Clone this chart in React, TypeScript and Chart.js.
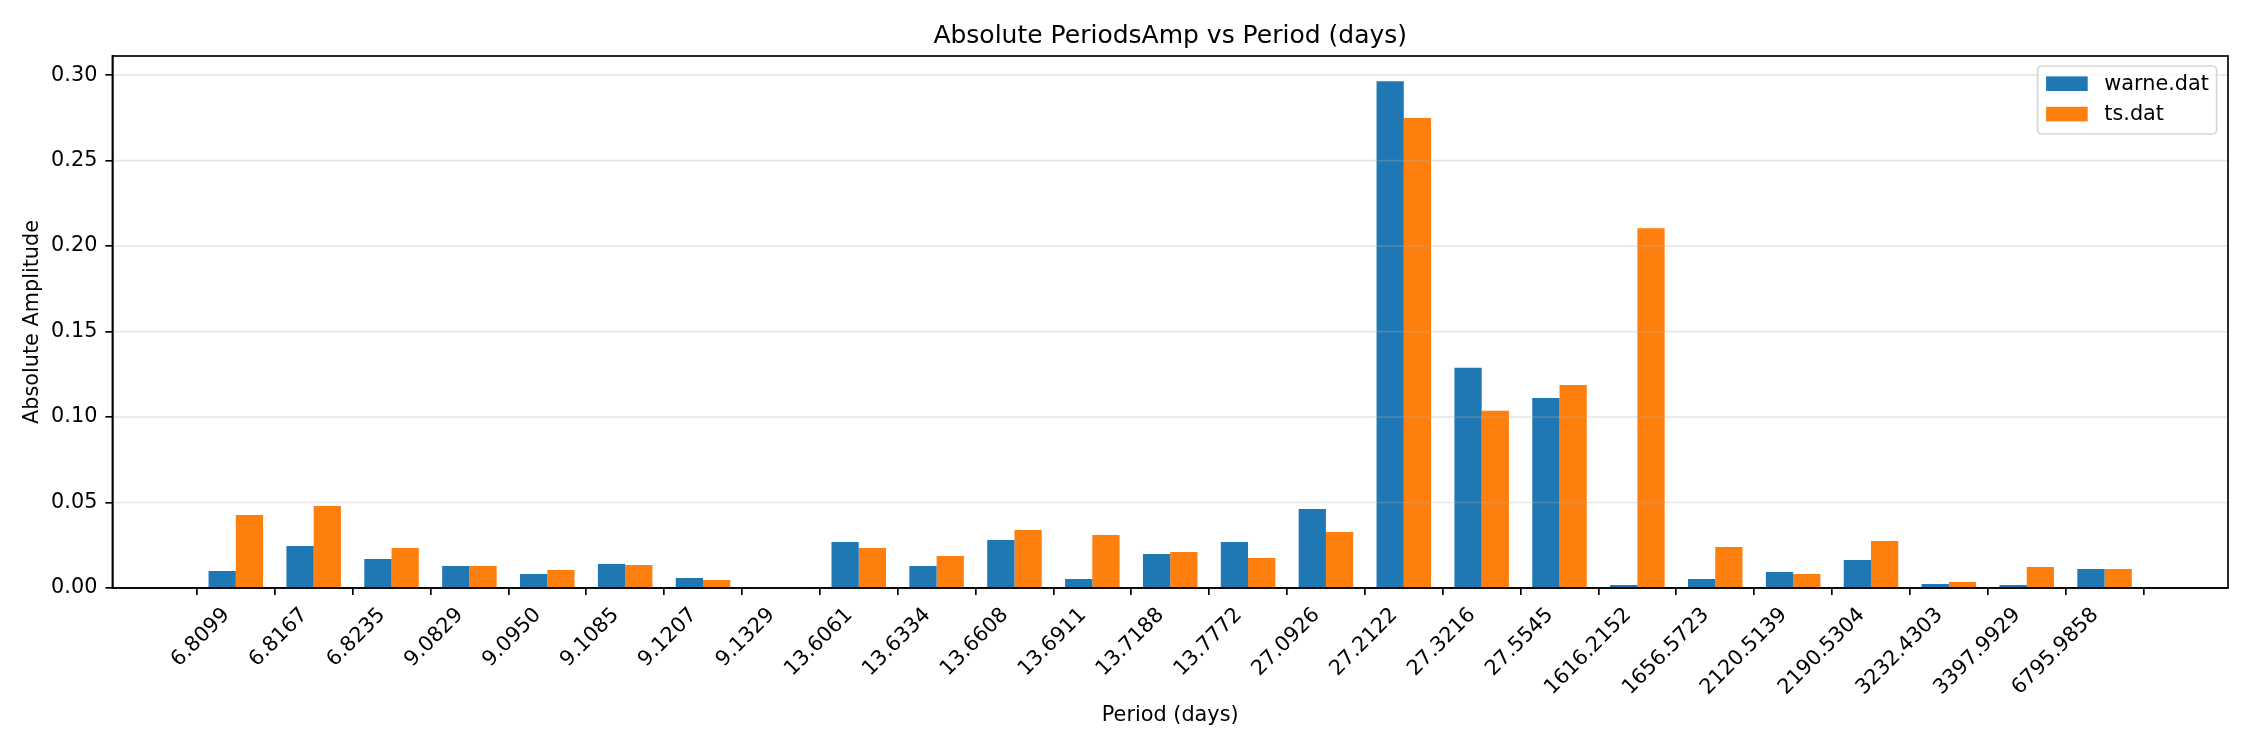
import React, { useEffect, useRef } from "react";
import { Chart, registerables } from "chart.js";

Chart.register(...registerables);

const periods = [
  "6.8099", "6.8167", "6.8235", "9.0829", "9.0950", "9.1085", "9.1207", "9.1329",
  "13.6061", "13.6334", "13.6608", "13.6911", "13.7188", "13.7772", "27.0926",
  "27.2122", "27.3216", "27.5545", "1616.2152", "1656.5723", "2120.5139",
  "2190.5304", "3232.4303", "3397.9929", "6795.9858",
];
const warneAmp = [
  0.0099, 0.0246, 0.0170, 0.0129, 0.0082, 0.0140, 0.0059, 0.0001,
  0.0269, 0.0129, 0.0281, 0.0053, 0.0199, 0.0269, 0.0462,
  0.2964, 0.1289, 0.1112, 0.0018, 0.0053, 0.0094,
  0.0164, 0.0023, 0.0018, 0.0111,
];
const tsAmp = [
  0.0427, 0.0479, 0.0234, 0.0129, 0.0105, 0.0135, 0.0047, 0.0006,
  0.0234, 0.0187, 0.0339, 0.0310, 0.0210, 0.0175, 0.0327,
  0.2749, 0.1037, 0.1188, 0.2105, 0.0240, 0.0082,
  0.0275, 0.0035, 0.0123, 0.0111,
];
const seriesNames = ["warne.dat", "ts.dat"];
const seriesColors = ["#1f77b4", "#ff7f0e"];
const yTicks = [0, 0.05, 0.1, 0.15, 0.2, 0.25, 0.3];
const yMax = 0.3112;
const xMargin = 1.585;
const titleText = "Absolute PeriodsAmp vs Period (days)";
const xLabel = "Period (days)";
const yLabel = "Absolute Amplitude";

const FONT = "'DejaVu Sans', 'Liberation Sans', sans-serif";
const FS = 20.8;
const LW = 1.67;
const X_LABEL_SHIFT = [-9.4, 4.1];

const decorPlugin = {
  id: "mplDecor",
  beforeDraw(chart: any) {
    // matplotlib-style anchoring of rotated x tick labels (right edge at tick)
    const xs = chart.scales.x;
    const items = xs.getLabelItems(chart.chartArea);
    if (!(items as any).__shifted) {
      for (const it of items) {
        const t = it.options.translation;
        it.options.translation = [t[0] + X_LABEL_SHIFT[0], t[1] + X_LABEL_SHIFT[1]];
      }
      (items as any).__shifted = true;
    }
  },
  afterDatasetsDraw(chart: any) {
    const { ctx, chartArea: a, scales } = chart;
    const y = scales.y;
    ctx.save();
    // grid lines over bars (alpha)
    ctx.strokeStyle = "rgba(176,176,176,0.3)";
    ctx.lineWidth = LW;
    for (const t of yTicks) {
      const py = y.getPixelForValue(t);
      ctx.beginPath();
      ctx.moveTo(a.left, py);
      ctx.lineTo(a.right, py);
      ctx.stroke();
    }
    // frame
    ctx.strokeStyle = "#000";
    ctx.lineWidth = LW;
    ctx.strokeRect(a.left, a.top, a.right - a.left, a.bottom - a.top);
    ctx.restore();
  },
  afterDraw(chart: any) {
    const { ctx, chartArea: a } = chart;
    ctx.save();
    ctx.fillStyle = "#000";
    // title
    ctx.font = `25px ${FONT}`;
    ctx.textAlign = "center";
    ctx.textBaseline = "alphabetic";
    ctx.fillText(titleText, (a.left + a.right) / 2, 43.3);
    // x label
    ctx.font = `${FS}px ${FONT}`;
    ctx.fillText(xLabel, (a.left + a.right) / 2, 720.7);
    // y label
    ctx.save();
    ctx.translate(37.7, (a.top + a.bottom) / 2);
    ctx.rotate(-Math.PI / 2);
    ctx.fillText(yLabel, 0, 0);
    ctx.restore();
    // legend
    const bx = a.right - 190.4;
    const by = a.top + 10;
    const bw = 179;
    const bh = 68;
    ctx.beginPath();
    ctx.roundRect(bx, by, bw, bh, 4);
    ctx.fillStyle = "rgba(255,255,255,0.8)";
    ctx.fill();
    ctx.strokeStyle = "rgba(204,204,204,0.8)";
    ctx.lineWidth = LW;
    ctx.stroke();
    ctx.textAlign = "left";
    ctx.textBaseline = "middle";
    ctx.font = `${FS}px ${FONT}`;
    seriesNames.forEach((name, i) => {
      const cy = by + 17.7 + i * 30.4;
      ctx.fillStyle = seriesColors[i];
      ctx.fillRect(bx + 8.5, cy - 7.3, 41.6, 14.6);
      ctx.fillStyle = "#000";
      ctx.fillText(name, bx + 8.5 + 41.6 + 16.6, cy + 1);
    });
    ctx.restore();
  },
};

export default function App() {
  const ref = useRef<HTMLCanvasElement | null>(null);
  useEffect(() => {
    if (!ref.current) return;
    const chart = new Chart(ref.current, {
      type: "bar",
      data: {
        datasets: [
          {
            label: seriesNames[0],
            data: periods.map((_, i) => ({ x: i, y: warneAmp[i] })),
            backgroundColor: seriesColors[0],
            borderWidth: 0,
            categoryPercentage: 0.7,
            barPercentage: 1.0,
          },
          {
            label: seriesNames[1],
            data: periods.map((_, i) => ({ x: i, y: tsAmp[i] })),
            backgroundColor: seriesColors[1],
            borderWidth: 0,
            categoryPercentage: 0.7,
            barPercentage: 1.0,
          },
        ],
      } as any,
      options: {
        animation: false,
        responsive: true,
        maintainAspectRatio: false,
        events: [],
        layout: { padding: { left: 0, top: 56, right: 22, bottom: 0 } },
        plugins: {
          legend: { display: false },
          title: { display: false },
          tooltip: { enabled: false },
        },
        scales: {
          x: {
            type: "linear",
            min: -xMargin,
            max: periods.length - 1 + xMargin,
            offset: false,
            grid: {
              drawOnChartArea: false,
              drawTicks: true,
              tickLength: 7,
              color: "#000",
              lineWidth: LW,
            },
            border: { display: true, color: "#000", width: LW },
            ticks: {
              autoSkip: false,
              maxRotation: 45,
              minRotation: 45,
              padding: 4,
              color: "#000",
              font: { family: FONT, size: FS },
              callback: (v: any) => periods[v as number] ?? "",
            },
            afterBuildTicks: (s: any) => {
              s.ticks = periods.map((_, i) => ({ value: i }));
            },
            afterFit: (s: any) => {
              s.height = 162;
            },
          },
          y: {
            type: "linear",
            min: 0,
            max: yMax,
            grid: {
              drawOnChartArea: false,
              drawTicks: true,
              tickLength: 7,
              color: "#000",
              lineWidth: LW,
            },
            border: { display: true, color: "#000", width: LW },
            ticks: {
              padding: 8,
              color: "#000",
              font: { family: FONT, size: FS },
              callback: (v: any) => Number(v).toFixed(2),
            },
            afterBuildTicks: (s: any) => {
              s.ticks = yTicks.map((v) => ({ value: v }));
            },
            afterFit: (s: any) => {
              s.width = 112.4;
            },
          },
        },
      } as any,
      plugins: [decorPlugin],
    });
    return () => chart.destroy();
  }, []);
  return (
    <div style={{ position: "fixed", left: 0, top: 0, width: 2250, height: 750, background: "#fff" }}>
      <canvas ref={ref} />
    </div>
  );
}
